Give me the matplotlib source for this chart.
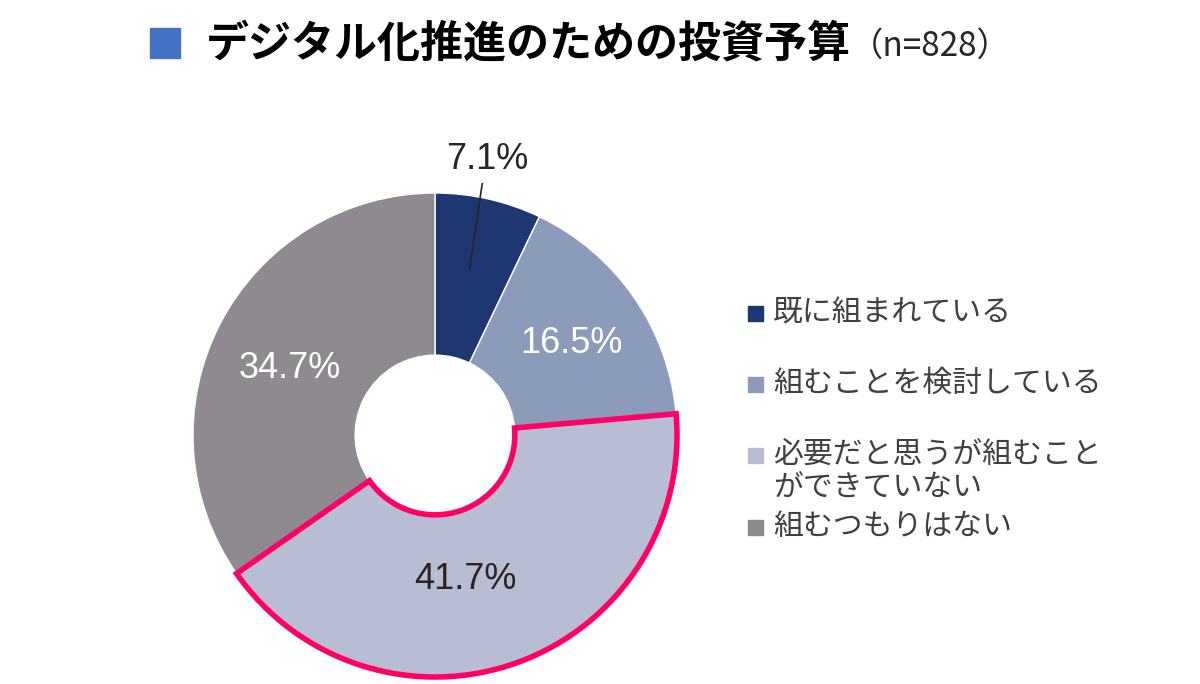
import numpy as np
import matplotlib

matplotlib.use("Agg")
import matplotlib.pyplot as plt
from matplotlib.patches import Rectangle

plt.rcParams["font.family"] = ["Noto Sans CJK JP", "DejaVu Sans"]

# ---- data ----
categories = ["既に組まれている", "組むことを検討している",
              "必要だと思うが組むこと\nができていない", "組むつもりはない"]
shares = [7.1, 16.5, 41.7, 34.7]
colors = ["#1c3772", "#8d9bba", "#b9bdd4", "#8e8a8f"]
label_colors = ["#262626", "white", "#262626", "white"]
highlight = 2  # slice with the pink outline
title = "デジタル化推進のための投資予算"
n_note = "（n=828）"

W, H = 1200, 684
fig = plt.figure(figsize=(W / 100, H / 100), dpi=100)

# ---- donut ----
cx, cy, r_px = 435, 435, 242
half = 252
ax = fig.add_axes([(cx - half) / W, (H - cy - half) / H, 2 * half / W, 2 * half / H])

wedges, _ = ax.pie(shares, colors=colors, startangle=90, counterclock=False,
                   radius=1.0, wedgeprops=dict(width=0.67, edgecolor="white", linewidth=1))
# pie() resets the limits, so set them afterwards
lim = half / r_px
ax.set_xlim(-lim, lim)
ax.set_ylim(-lim, lim)
ax.set_aspect("equal")
ax.axis("off")

w = wedges[highlight]
w.set_edgecolor("#ff0066")
w.set_linewidth(4)
w.set_zorder(5)

# label placement (radius, angle tweak) per slice
label_r = [1.16, 0.68, 0.61, 0.66]
label_da = [2, -1, -8, 3]
for i, wd in enumerate(wedges):
    mid = np.deg2rad((wd.theta1 + wd.theta2) / 2 + label_da[i])
    x, y = label_r[i] * np.cos(mid), label_r[i] * np.sin(mid)
    ax.text(x, y, f"{shares[i]:.1f}%", ha="center", va="center",
            fontsize=26, color=label_colors[i], family=["Liberation Sans"], zorder=6)

# leader line for the small slice
mid0 = np.deg2rad((wedges[0].theta1 + wedges[0].theta2) / 2 + 1)
ax.plot([0.70 * np.cos(mid0), 1.06 * np.cos(mid0 + 0.02)],
        [0.70 * np.sin(mid0), 1.06 * np.sin(mid0 + 0.02)],
        color="#262626", lw=1.2, zorder=6)

# ---- title ----
fig.patches.append(Rectangle((150 / W, 1 - 58 / H), 30 / W, 30 / H,
                             transform=fig.transFigure, color="#4472c4"))
fig.text(206 / W, 1 - 44 / H, title, fontsize=31, fontweight="bold",
         va="center", ha="left", color="black")
fig.text(850 / W, 1 - 46 / H, n_note, fontsize=24, va="center", ha="left", color="#262626")

# ---- legend ----
row_y = [313, 384, 455, 527]
for i, cat in enumerate(categories):
    y = row_y[i]
    fig.patches.append(Rectangle((748 / W, 1 - (y + 8) / H), 15 / W, 15 / H,
                                 transform=fig.transFigure, color=colors[i]))
    fig.text(773 / W, 1 - (y - 16) / H, cat, fontsize=21.5, va="top", ha="left",
             color="#404040", linespacing=1.08)

fig.savefig("out.png", dpi=100, facecolor="white")
